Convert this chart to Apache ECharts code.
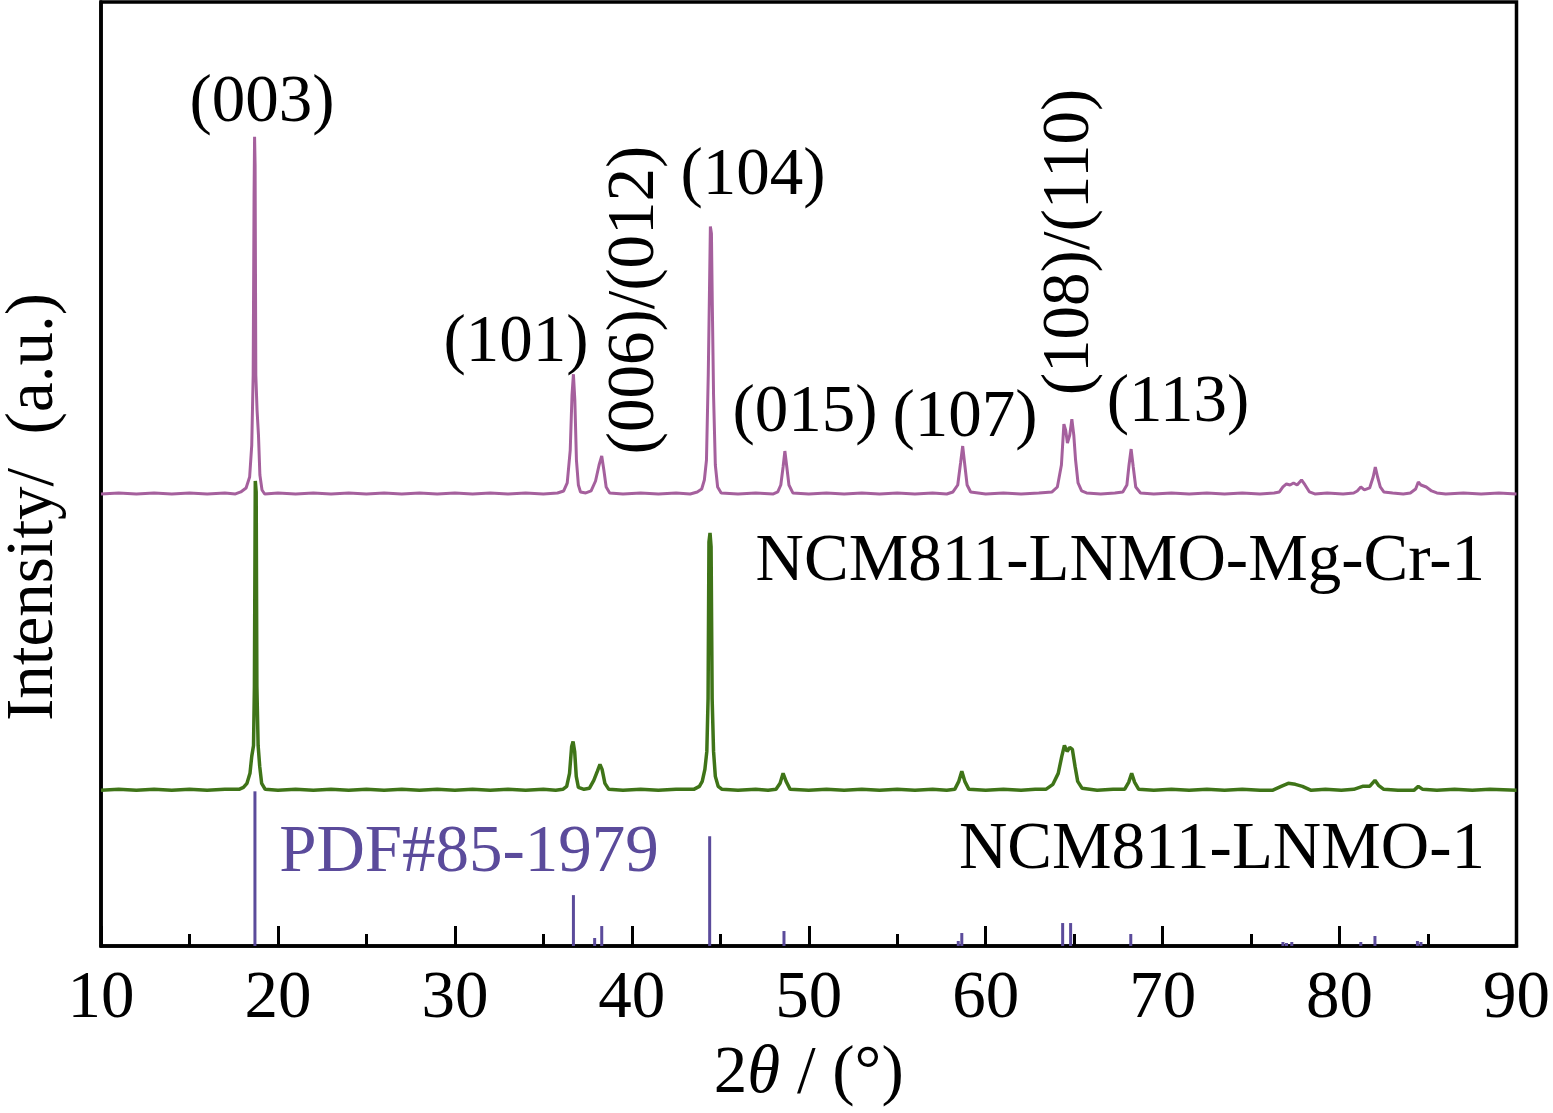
<!DOCTYPE html>
<html>
<head>
<meta charset="utf-8">
<script src="https://cdn.jsdelivr.net/npm/echarts@6/dist/echarts.min.js"></script>
<style>
html,body{margin:0;padding:0;background:#fff;}
#c{width:1553px;height:1113px;}
</style>
</head>
<body>
<div id="c"></div>
<script>
// 2θ range and ticks
const xMin = 10, xMax = 90, xStep = 10;
const xTicks = [10, 20, 30, 40, 50, 60, 70, 80, 90];

// vertical offsets of stacked patterns (a.u.)
const offsetMgCr = 452;
const offsetLNMO = 155;

// NCM811-LNMO-Mg-Cr-1 pattern: [2θ, intensity above its baseline]
const mgcr = [
[10,1],[11,2],[12,1],[13,2],[14,1],[15,2],[16,1],[17,2],[17.6,1],[17.9,3],[18.2,7],[18.4,18],[18.52,50],[18.6,120],[18.65,300],[18.68,359],[18.71,330],[18.75,120],[18.82,85],[18.9,60],[18.98,20],[19.1,5],[19.25,1],
[20,2],[21,1],[22,2],[23,1],[24,2],[25,1],[26,2],[27,1],[28,2],[29,1],[30,2],[31,1],[32,2],[33,1],[34,2],[35,1],[35.8,2],
[36.15,4],[36.35,12],[36.52,45],[36.62,100],[36.7,121],[36.78,95],[36.87,35],[36.98,10],[37.1,3],[37.4,2],[37.7,4],[37.95,14],[38.15,30],[38.3,39],[38.42,25],[38.55,8],[38.75,2],
[39.5,1],[40.5,2],[41.5,1],[42.5,2],[43.3,1],[43.7,3],[43.95,6],[44.1,15],[44.22,35],[44.32,120],[44.38,193],[44.44,269],[44.5,262],[44.55,190],[44.62,100],[44.72,30],[44.85,8],[45.05,2],
[46,1],[47,2],[48.0,1],[48.25,3],[48.42,10],[48.55,28],[48.65,44],[48.76,28],[48.88,10],[49.1,2],
[50,1],[51,2],[52,1],[53,2],[54,1],[55,2],[56,1],[57,2],[57.8,1],[58.15,3],[58.42,10],[58.58,32],[58.7,49],[58.82,30],[58.95,10],[59.15,3],
[60,1],[61,2],[62,1],[63,2],[63.75,3],[64.05,8],[64.28,30],[64.42,71],[64.52,65],[64.62,52],[64.75,60],[64.87,76],[64.98,60],[65.08,35],[65.22,12],[65.42,4],[65.7,2],
[66.5,1],[67.3,2],[67.75,3],[67.98,10],[68.1,30],[68.22,46],[68.34,28],[68.48,8],[68.75,2],
[69.5,1],[70.5,2],[71.5,1],[72.5,2],[73.5,1],[74.5,2],[75.5,1],[76.3,2],[76.6,3],[76.8,8],[77.0,11],[77.2,10],[77.4,12],[77.6,10],[77.85,15],[78.05,10],[78.3,3],[78.6,1],
[79.3,2],[80.2,1],[80.8,2],[81.0,4],[81.2,8],[81.4,5],[81.7,7],[81.9,18],[82.02,28],[82.15,18],[82.3,8],[82.5,3],[83,2],[83.6,1],[84.0,2],[84.3,6],[84.45,13],[84.6,10],[84.9,8],[85.2,4],[85.5,2],
[86,1],[87,2],[88,1],[89,2],[90,1]
];

// NCM811-LNMO-1 pattern: [2θ, intensity above its baseline]
const lnmo = [
[10,1],[11,2],[12,1],[13,2],[14,1],[15,2],[16,1],[17,2],[17.8,2],[18.05,4],[18.25,8],[18.42,18],[18.52,35],[18.62,46],[18.67,105],[18.72,311],[18.77,300],[18.81,105],[18.88,46],[18.97,25],[19.08,8],[19.28,2],
[20,1],[21,2],[22,1],[23,2],[24,1],[25,2],[26,1],[27,2],[28,1],[29,2],[30,1],[31,2],[32,1],[33,2],[34,1],[35,2],[35.7,1],
[36.1,2],[36.32,5],[36.48,18],[36.6,45],[36.68,50],[36.77,40],[36.86,15],[36.98,4],[37.3,2],[37.6,3],[37.85,11],[38.05,20],[38.2,27],[38.32,22],[38.48,8],[38.7,2],
[39.5,1],[40.5,2],[41.5,1],[42.5,2],[43.5,2],[43.82,5],[43.98,10],[44.13,22],[44.24,40],[44.31,93],[44.36,250],[44.42,259],[44.48,245],[44.54,93],[44.62,40],[44.72,15],[44.88,5],[45.1,2],
[46,1],[47,2],[47.7,1],[48.15,2],[48.38,8],[48.55,18],[48.72,10],[48.95,2],
[50,1],[51,2],[52,1],[53,2],[54,1],[55,2],[56,1],[57,2],[57.8,1],[58.25,2],[58.48,10],[58.65,20],[58.82,10],[59.05,2],
[60,1],[61,2],[62,1],[62.8,2],[63.4,2],[63.8,7],[64.1,18],[64.3,35],[64.45,46],[64.6,40],[64.75,44],[64.9,42],[65.05,25],[65.2,10],[65.45,3],
[66.3,1],[67.2,2],[67.85,2],[68.08,9],[68.25,18],[68.42,9],[68.65,2],
[69.5,1],[70.5,2],[71.5,1],[72.5,2],[73.5,1],[74.5,2],[75.5,1],[76.2,1],[76.7,5],[77.1,8],[77.5,7],[77.9,5],[78.4,1],
[79.2,2],[80.1,1],[80.8,2],[81.3,5],[81.7,5],[82.0,11],[82.2,6],[82.5,2],[83.3,1],[84.2,1],[84.45,5],[84.7,2],
[85.5,1],[86.5,2],[87.5,1],[88.5,2],[90,1]
];

// PDF#85-1979 reference lines: [2θ, relative intensity]
const pdfRef = [
[18.7,155],[36.7,51],[37.9,8],[38.3,20],[44.4,110],[48.6,15],[58.45,5],[58.65,13],[64.35,23],[64.8,23],[68.2,12],
[76.8,4],[77.0,3],[77.3,4],[81.2,4],[82.0,10],[84.4,5],[84.6,4]
];

const yMax = 946;
const FONT = "'Liberation Serif','Times New Roman',serif";
const FS = 67;

const chart = echarts.init(document.getElementById('c'));

function txt(text, x, y, opts) {
  return Object.assign({
    type: 'text', x: x, y: y,
    style: Object.assign({
      text: text, font: FS + 'px ' + FONT, fill: '#000',
      textAlign: 'center', textVerticalAlign: 'middle'
    }, (opts && opts.style) || {})
  }, (opts && opts.el) || {});
}

chart.setOption({
  animation: false,
  backgroundColor: '#fff',
  grid: { left: 101, right: 33, top: 2, bottom: 165, show: true, borderColor: '#000', borderWidth: 3.5 },
  xAxis: {
    type: 'value', min: xMin, max: xMax, interval: xStep,
    axisLine: { show: true, lineStyle: { color: '#000', width: 3.5 } },
    axisTick: { show: true, inside: true, length: 20, lineStyle: { color: '#000', width: 3 } },
    minorTick: { show: true, splitNumber: 2, length: 12, lineStyle: { color: '#000', width: 3 } },
    splitLine: { show: false },
    axisLabel: {
      fontFamily: FONT, fontSize: FS, color: '#000', margin: 20,
      formatter: function (v) { return xTicks.indexOf(v) >= 0 ? String(v) : ''; }
    },
    name: '{n|2}{i|θ}{n| / (°)}',
    nameLocation: 'middle', nameGap: 95,
    nameTextStyle: {
      rich: {
        n: { fontFamily: FONT, fontSize: FS, color: '#000' },
        i: { fontFamily: FONT, fontSize: FS, color: '#000', fontStyle: 'italic' }
      }
    }
  },
  yAxis: {
    type: 'value', min: 0, max: yMax,
    axisLine: { show: true, lineStyle: { color: '#000', width: 3.5 } },
    axisTick: { show: false }, axisLabel: { show: false }, splitLine: { show: false }
  },
  series: [
    {
      name: 'PDF#85-1979', type: 'bar', barWidth: 3, z: 1,
      itemStyle: { color: '#5b4b9b' },
      data: pdfRef
    },
    {
      name: 'NCM811-LNMO-1', type: 'line', showSymbol: false, z: 3,
      lineStyle: { color: '#3f7418', width: 3.5 },
      data: lnmo.map(p => [p[0], p[1] + offsetLNMO])
    },
    {
      name: 'NCM811-LNMO-Mg-Cr-1', type: 'line', showSymbol: false, z: 4,
      lineStyle: { color: '#a5609d', width: 3 },
      data: mgcr.map(p => [p[0], p[1] + offsetMgCr])
    }
  ],
  graphic: [
    txt('Intensity/  (a.u.)', 34, 507, { el: { rotation: Math.PI / 2 } }),
    txt('(003)', 262, 103),
    txt('(101)', 516, 343),
    txt('(006)/(012)', 635, 300, { el: { rotation: Math.PI / 2 } }),
    txt('(104)', 753, 176),
    txt('(015)', 805, 413),
    txt('(107)', 965, 418),
    txt('(108)/(110)', 1070, 242, { el: { rotation: Math.PI / 2 } }),
    txt('(113)', 1178, 403),
    txt('NCM811-LNMO-Mg-Cr-1', 1485, 562, { style: { textAlign: 'right' } }),
    txt('NCM811-LNMO-1', 1485, 850, { style: { textAlign: 'right' } }),
    txt('PDF#85-1979', 469, 853, { style: { fill: '#5b4b9b' } })
  ]
});
</script>
</body>
</html>
